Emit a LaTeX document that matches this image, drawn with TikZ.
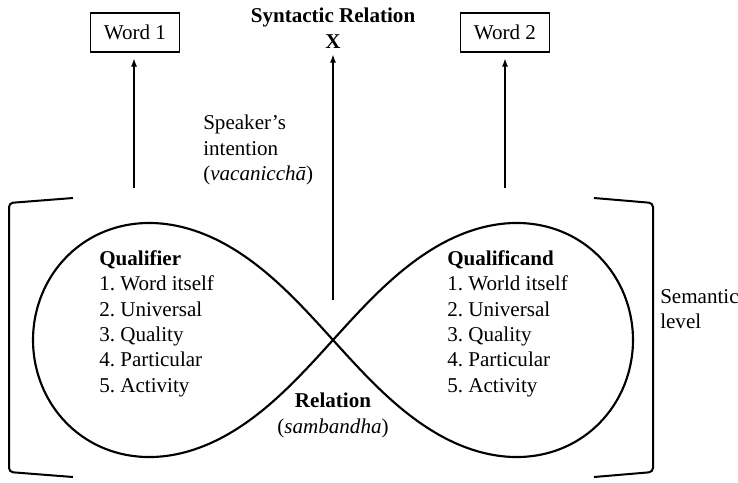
\documentclass[tikz,border=0pt]{standalone}
\usepackage{fontspec}
\setmainfont{Liberation Serif}
\usetikzlibrary{arrows.meta}
\frenchspacing

\tikzset{
  wordbox/.style={draw,line width=1.1pt,minimum width=67pt,minimum height=29pt,inner sep=0pt},
  txt/.style={inner sep=0pt,align=left},
  up/.style={-{Latex[length=6pt,width=4.5pt]},line width=0.8pt,shorten >=4.5pt},
  brack/.style={line width=1.5pt,rounded corners=3pt},
}

\begin{document}
\begin{tikzpicture}[x=0.75pt,y=-0.75pt,font=\fontsize{15.8}{19.1}\selectfont]
  \useasboundingbox (0,0) rectangle (738,482);

  \node[wordbox] (word1) at (135,32.5) {Word 1};
  \node[wordbox] (word2) at (505,32.5) {Word 2};
  \node[txt,align=center,anchor=north,font=\fontsize{15.8}{19.1}\selectfont\bfseries] (synrel) at (333,8) {Syntactic Relation\\X};

  \node[txt,anchor=north west] (speaker) at (203,115) {Speaker’s\\intention\\(\textit{vacanicchā})};

  % the figure eight
  \draw[line width=1.6pt] plot[domain=0:360,samples=241,smooth cycle,variable=\t]
    ({333+300*cos(\t)/(1+(sin(\t))^2)},{340+331*sin(\t)*cos(\t)/(1+(sin(\t))^2)});

  \node[txt,anchor=north west] (qualifier) at (99,250) {\textbf{Qualifier}\\1. Word itself\\2. Universal\\3. Quality\\4. Particular\\5. Activity};
  \node[txt,anchor=north west] (qualificand) at (447,250) {\textbf{Qualificand}\\1. World itself\\2. Universal\\3. Quality\\4. Particular\\5. Activity};
  \node[txt,align=center,anchor=north] (relation) at (333,393) {\textbf{Relation}\\(\textit{sambandha})};
  \node[txt,anchor=north west] (semantic) at (660,289) {Semantic\\level};

  % brackets
  \draw[brack] (73,198) -- (9,203) -- (9,472) -- (73,477);
  \draw[brack] (594,198) -- (653,203) -- (653,472) -- (594,477);

  % arrows
  \coordinate (base1) at (134,188);
  \coordinate (base2) at (505,188);
  \coordinate (basex) at (333,300);
  \draw[up] (base1) -- (base1 |- word1.south);
  \draw[up] (base2) -- (base2 |- word2.south);
  \draw[up] (basex) -- (basex |- synrel.south);
\end{tikzpicture}
\end{document}
